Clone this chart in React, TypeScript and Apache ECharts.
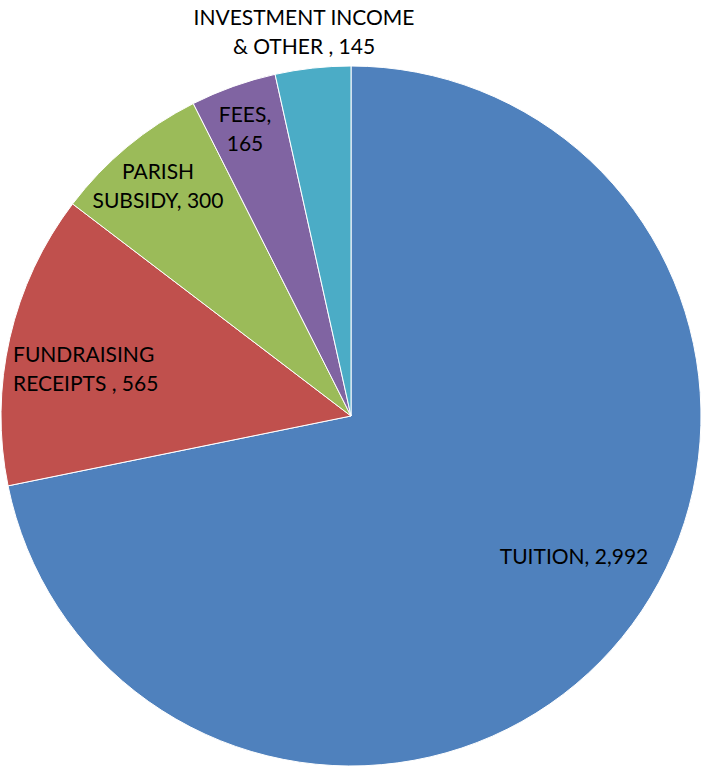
import React, { useEffect, useRef } from "react";
import * as echarts from "echarts";

const categories = [
  "TUITION",
  "FUNDRAISING\nRECEIPTS",
  "PARISH\nSUBSIDY",
  "FEES",
  "INVESTMENT INCOME\n& OTHER",
];
const values = [2992, 565, 300, 165, 145];
const separators = [", ", " , ", ", ", ",\n", " , "];
const colors = ["#4F81BD", "#C0504D", "#9BBB59", "#8064A2", "#4BACC6"];

// label anchor layout (pixels), not data
const labelAnchors: { x: number; y: number; align: string }[] = [
  { x: 574, y: 555, align: "center" },
  { x: 13, y: 368, align: "left" },
  { x: 158, y: 185, align: "center" },
  { x: 245, y: 128, align: "center" },
  { x: 304, y: 31, align: "center" },
];

export default function App() {
  const ref = useRef<HTMLDivElement>(null);
  useEffect(() => {
    document.body.style.margin = "0";
    const chart = echarts.init(ref.current!, null, { renderer: "svg" });
    chart.setOption({
      animation: false,
      series: [
        {
          type: "pie",
          center: [351, 416],
          radius: 350,
          startAngle: 90,
          clockwise: true,
          avoidLabelOverlap: false,
          itemStyle: { borderColor: "#ffffff", borderWidth: 1 },
          label: {
            show: true,
            position: "inside",
            color: "#000000",
            fontFamily: "Lato, 'Noto Sans', sans-serif",
            fontSize: 21,
            lineHeight: 29,
            formatter: (p: any) =>
              p.name + separators[p.dataIndex] + p.value.toLocaleString("en-US"),
          },
          labelLine: { show: false },
          emphasis: { disabled: true },
          labelLayout: (params: any) => {
            const a = labelAnchors[params.dataIndex];
            return { x: a.x, y: a.y, align: a.align, verticalAlign: "middle" };
          },
          data: categories.map((name, i) => ({
            name,
            value: values[i],
            itemStyle: { color: colors[i] },
          })),
        },
      ],
    });
    return () => chart.dispose();
  }, []);
  return <div ref={ref} style={{ width: 701, height: 771, overflow: "hidden" }} />;
}
